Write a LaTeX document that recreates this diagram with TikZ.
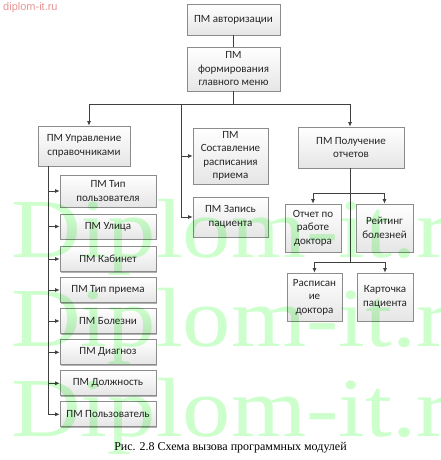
\documentclass[tikz,border=0pt]{standalone}
\usepackage{fontspec}
\setmainfont{Carlito}
\newfontfamily\serifwm{Liberation Serif}
\newfontfamily\arialf{Liberation Sans}
\usetikzlibrary{arrows.meta,shadows}
\definecolor{lnc}{HTML}{404040}
\definecolor{bdc}{HTML}{8C8C8C}
\definecolor{txc}{HTML}{262626}
\definecolor{wmc}{RGB}{204,255,204}
\definecolor{toplbl}{RGB}{232,150,150}
\begin{document}
\begin{tikzpicture}[x=1pt,y=-1pt,
  box/.style={draw=bdc, line width=0.7pt, top color=white, bottom color=black!10,
    inner sep=0pt, align=center, text=txc, font=\fontsize{11}{13.5}\selectfont,
    drop shadow={shadow xshift=1.2pt, shadow yshift=-1.2pt, opacity=0.3, fill=black}},
  ln/.style={draw=lnc, line width=0.75pt},
  arr/.style={ln, -{Latex[length=4.5pt,width=4pt]}}]
\useasboundingbox (0,0) rectangle (441,460);
\fill[white] (0,0) rectangle (441,460);

% top
\node[box, minimum width=93pt, minimum height=31pt] (auth) at (233.5,19.5) {ПМ авторизации};
\node[box, minimum width=93pt, minimum height=44pt] (menu) at (233.5,69) {ПМ\\формирования\\главного меню};

% level 2
\node[box, minimum width=92pt, minimum height=40pt] (upr) at (84,146) {ПМ Управление\\справочниками};
\node[box, minimum width=75pt, minimum height=56pt] (sost) at (230.5,156) {ПМ\\Составление\\расписания\\приема};
\node[box, minimum width=75pt, minimum height=40pt] (zap) at (230.5,217) {ПМ Запись\\пациента};
\node[box, minimum width=106pt, minimum height=41pt] (otch) at (351,147.5) {ПМ Получение\\отчетов};

% left column
\node[box, minimum width=96pt, minimum height=32pt] (u1) at (108,191) {ПМ Тип\\пользователя};
\node[box, minimum width=96pt, minimum height=25pt] (u2) at (108,226.5) {ПМ Улица};
\node[box, minimum width=96pt, minimum height=25pt] (u3) at (108,259) {ПМ Кабинет};
\node[box, minimum width=96pt, minimum height=25pt] (u4) at (108,290) {ПМ Тип приема};
\node[box, minimum width=96pt, minimum height=25pt] (u5) at (108,321) {ПМ Болезни};
\node[box, minimum width=96pt, minimum height=25pt] (u6) at (108,352.3) {ПМ Диагноз};
\node[box, minimum width=96pt, minimum height=25pt] (u7) at (108,383.3) {ПМ Должность};
\node[box, minimum width=96pt, minimum height=25pt] (u8) at (108,414.3) {ПМ Пользователь};

% right column
\node[box, minimum width=56pt, minimum height=48pt] (r1) at (313,228) {Отчет по\\работе\\доктора};
\node[box, minimum width=57pt, minimum height=48pt] (r2) at (384.5,228) {Рейтинг\\болезней};
\node[box, minimum width=55pt, minimum height=48pt] (r3) at (314.5,297) {Расписан\\ие\\доктора};
\node[box, minimum width=56pt, minimum height=48pt] (r4) at (385,297) {Карточка\\пациента};

% junctions
\coordinate (busC) at (233.5,104);
\coordinate (busL) at (89,104);
\coordinate (busM) at (181,104);
\coordinate (busR) at (350,104);
\coordinate (spL) at (48,166);
\coordinate (br1) at (350,193);
\coordinate (br2) at (350,262);

% connectors
\draw[ln] (auth) -- (menu);
\draw[ln] (menu.south) -- (busC);
\draw[ln] (busL) -- (busR);
\draw[arr] (busL) -- (busL |- upr.north);
\draw[arr] (busR) -- (busR |- otch.north);
\draw[ln] (busM) -- (busM |- zap.west);
\draw[arr] (busM |- sost.west) -- (sost.west);
\draw[arr] (busM |- zap.west) -- (zap.west);

\draw[ln] (spL) -- (spL |- u8.west);
\foreach \n in {u1,u2,u3,u4,u5,u6,u7,u8}
  \draw[arr] (spL |- \n.west) -- (\n.west);

\draw[ln] (busR |- otch.south) -- (br2);
\draw[ln] (br1 -| r1.north) -- (br1 -| r2.north);
\draw[arr] (br1 -| r1.north) -- (r1.north);
\draw[arr] (br1 -| r2.north) -- (r2.north);
\draw[ln] (br2 -| r3.north) -- (br2 -| r4.north);
\draw[arr] (br2 -| r3.north) -- (r3.north);
\draw[arr] (br2 -| r4.north) -- (r4.north);

% caption
\node[font=\serifwm\fontsize{12}{12}\selectfont, anchor=base, inner sep=0pt] (cap) at (230.5,450) {Рис. 2.8 Схема вызова программных модулей};

% watermarks
\node[anchor=north west, inner sep=0pt, text=toplbl, font=\arialf\fontsize{11}{11}\selectfont] (wmtop) at (3,2) {diplom-it.ru};
\begin{scope}[blend mode=multiply]
\foreach \yy/\nm in {257/w1, 346/w2, 436/w3}
  \node[anchor=base west, inner sep=0pt, text=wmc, font=\serifwm\fontsize{84}{84}\selectfont] (\nm) at (11,\yy) {\scalebox{1.15}[1]{Diplom-it.r}};
\end{scope}
\end{tikzpicture}
\end{document}
